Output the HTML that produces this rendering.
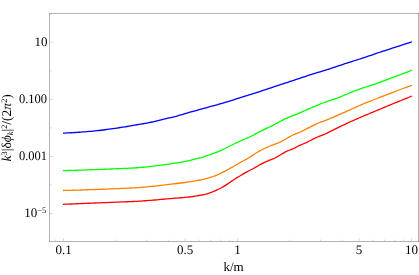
<!DOCTYPE html><html><head><meta charset="utf-8"><style>html,body{margin:0;padding:0;background:#fff;}svg{display:block;}text{font-family:"Liberation Serif",serif;fill:#000;text-rendering:geometricPrecision;}</style></head><body>
<svg width="419" height="275" viewBox="0 0 419 275">
<rect x="0" y="0" width="419" height="275" fill="#fff"/>
<path d="M63.00,133.10 L65.00,133.03 L67.00,132.94 L69.00,132.85 L71.00,132.74 L73.00,132.63 L75.00,132.50 L77.00,132.37 L79.00,132.23 L81.00,132.09 L83.00,131.94 L85.00,131.78 L87.00,131.62 L89.00,131.45 L91.00,131.28 L93.00,131.10 L95.00,130.91 L97.00,130.70 L99.00,130.48 L101.00,130.24 L103.00,129.99 L105.00,129.74 L107.00,129.47 L109.00,129.19 L111.00,128.91 L113.00,128.62 L115.00,128.33 L117.00,128.04 L119.00,127.75 L121.00,127.45 L123.00,127.14 L125.00,126.82 L127.00,126.49 L129.00,126.15 L131.00,125.80 L133.00,125.45 L135.00,125.10 L137.00,124.76 L139.00,124.42 L141.00,124.08 L143.00,123.74 L145.00,123.39 L147.00,123.03 L149.00,122.65 L151.00,122.24 L153.00,121.79 L155.00,121.32 L157.00,120.83 L159.00,120.33 L161.00,119.84 L163.00,119.36 L165.00,118.90 L167.00,118.44 L169.00,117.99 L171.00,117.53 L173.00,117.05 L175.00,116.56 L177.00,116.03 L179.00,115.48 L181.00,114.89 L183.00,114.29 L185.00,113.68 L187.00,113.08 L189.00,112.49 L191.00,111.92 L193.00,111.36 L195.00,110.81 L197.00,110.26 L199.00,109.72 L201.00,109.18 L203.00,108.63 L205.00,108.08 L207.00,107.53 L209.00,106.98 L211.00,106.43 L213.00,105.87 L215.00,105.32 L217.00,104.77 L219.00,104.21 L221.00,103.65 L223.00,103.08 L225.00,102.49 L227.00,101.90 L229.00,101.29 L231.00,100.66 L233.00,100.01 L235.00,99.36 L237.00,98.70 L239.00,98.05 L241.00,97.41 L243.00,96.79 L245.00,96.18 L247.00,95.57 L249.00,94.95 L251.00,94.34 L253.00,93.72 L255.00,93.08 L257.00,92.44 L259.00,91.79 L261.00,91.13 L263.00,90.47 L265.00,89.81 L267.00,89.14 L269.00,88.48 L271.00,87.81 L273.00,87.14 L275.00,86.48 L277.00,85.82 L279.00,85.16 L281.00,84.49 L283.00,83.83 L285.00,83.17 L287.00,82.51 L289.00,81.84 L291.00,81.18 L293.00,80.52 L295.00,79.86 L297.00,79.19 L299.00,78.53 L301.00,77.87 L303.00,77.20 L305.00,76.53 L307.00,75.86 L309.00,75.20 L311.00,74.55 L313.00,73.91 L315.00,73.30 L317.00,72.70 L319.00,72.11 L321.00,71.52 L323.00,70.92 L325.00,70.31 L327.00,69.68 L329.00,69.04 L331.00,68.39 L333.00,67.73 L335.00,67.07 L337.00,66.40 L339.00,65.72 L341.00,65.05 L343.00,64.38 L345.00,63.71 L347.00,63.05 L349.00,62.40 L351.00,61.76 L353.00,61.13 L355.00,60.50 L357.00,59.87 L359.00,59.25 L361.00,58.62 L363.00,57.98 L365.00,57.33 L367.00,56.66 L369.00,55.98 L371.00,55.28 L373.00,54.57 L375.00,53.87 L377.00,53.17 L379.00,52.50 L381.00,51.84 L383.00,51.19 L385.00,50.54 L387.00,49.90 L389.00,49.26 L391.00,48.62 L393.00,47.98 L395.00,47.33 L397.00,46.68 L399.00,46.04 L401.00,45.39 L403.00,44.74 L405.00,44.10 L407.00,43.45 L409.00,42.80 L411.00,42.16 L411.80,41.90" fill="none" stroke="#0000ff" stroke-width="1.3" stroke-linejoin="round"/>
<path d="M63.00,170.60 L65.00,170.55 L67.00,170.50 L69.00,170.45 L71.00,170.40 L73.00,170.34 L75.00,170.29 L77.00,170.23 L79.00,170.16 L81.00,170.10 L83.00,170.04 L85.00,169.97 L87.00,169.90 L89.00,169.83 L91.00,169.76 L93.00,169.69 L95.00,169.61 L97.00,169.54 L99.00,169.46 L101.00,169.38 L103.00,169.31 L105.00,169.23 L107.00,169.14 L109.00,169.06 L111.00,168.98 L113.00,168.90 L115.00,168.81 L117.00,168.73 L119.00,168.64 L121.00,168.56 L123.00,168.47 L125.00,168.38 L127.00,168.29 L129.00,168.19 L131.00,168.09 L133.00,167.98 L135.00,167.86 L137.00,167.73 L139.00,167.59 L141.00,167.42 L143.00,167.23 L145.00,167.03 L147.00,166.82 L149.00,166.61 L151.00,166.38 L153.00,166.16 L155.00,165.93 L157.00,165.69 L159.00,165.45 L161.00,165.19 L163.00,164.93 L165.00,164.66 L167.00,164.38 L169.00,164.09 L171.00,163.79 L173.00,163.48 L175.00,163.17 L177.00,162.85 L179.00,162.52 L181.00,162.17 L183.00,161.81 L185.00,161.43 L187.00,161.04 L189.00,160.62 L191.00,160.16 L193.00,159.63 L195.00,159.07 L197.00,158.55 L199.00,158.07 L201.00,157.58 L203.00,157.01 L205.00,156.37 L207.00,155.68 L209.00,154.99 L211.00,154.30 L213.00,153.59 L215.00,152.85 L217.00,152.08 L219.00,151.28 L221.00,150.44 L223.00,149.54 L225.00,148.54 L227.00,147.51 L229.00,146.50 L231.00,145.49 L233.00,144.49 L235.00,143.51 L237.00,142.56 L239.00,141.63 L241.00,140.72 L243.00,139.86 L245.00,139.02 L247.00,138.15 L249.00,137.22 L251.00,136.23 L253.00,135.21 L255.00,134.20 L257.00,133.20 L259.00,132.20 L261.00,131.20 L263.00,130.20 L265.00,129.19 L267.00,128.20 L269.00,127.24 L271.00,126.29 L273.00,125.31 L275.00,124.27 L277.00,123.16 L279.00,122.04 L281.00,120.98 L283.00,119.94 L285.00,118.95 L287.00,118.04 L289.00,117.21 L291.00,116.43 L293.00,115.64 L295.00,114.84 L297.00,114.04 L299.00,113.22 L301.00,112.36 L303.00,111.45 L305.00,110.53 L307.00,109.66 L309.00,108.82 L311.00,107.99 L313.00,107.14 L315.00,106.26 L317.00,105.37 L319.00,104.54 L321.00,103.75 L323.00,103.00 L325.00,102.26 L327.00,101.54 L329.00,100.85 L331.00,100.18 L333.00,99.51 L335.00,98.84 L337.00,98.14 L339.00,97.40 L341.00,96.61 L343.00,95.76 L345.00,94.88 L347.00,94.00 L349.00,93.13 L351.00,92.30 L353.00,91.52 L355.00,90.76 L357.00,90.03 L359.00,89.32 L361.00,88.62 L363.00,87.93 L365.00,87.25 L367.00,86.58 L369.00,85.94 L371.00,85.30 L373.00,84.66 L375.00,84.01 L377.00,83.34 L379.00,82.65 L381.00,81.93 L383.00,81.19 L385.00,80.44 L387.00,79.68 L389.00,78.92 L391.00,78.18 L393.00,77.43 L395.00,76.69 L397.00,75.95 L399.00,75.20 L401.00,74.45 L403.00,73.69 L405.00,72.91 L407.00,72.13 L409.00,71.33 L411.00,70.52 L411.80,70.20" fill="none" stroke="#00ff00" stroke-width="1.3" stroke-linejoin="round"/>
<path d="M63.00,190.50 L65.00,190.45 L67.00,190.40 L69.00,190.34 L71.00,190.28 L73.00,190.23 L75.00,190.17 L77.00,190.10 L79.00,190.04 L81.00,189.98 L83.00,189.91 L85.00,189.84 L87.00,189.77 L89.00,189.71 L91.00,189.63 L93.00,189.56 L95.00,189.49 L97.00,189.41 L99.00,189.34 L101.00,189.26 L103.00,189.19 L105.00,189.11 L107.00,189.03 L109.00,188.95 L111.00,188.87 L113.00,188.79 L115.00,188.71 L117.00,188.62 L119.00,188.54 L121.00,188.46 L123.00,188.38 L125.00,188.29 L127.00,188.21 L129.00,188.11 L131.00,188.02 L133.00,187.92 L135.00,187.80 L137.00,187.68 L139.00,187.55 L141.00,187.39 L143.00,187.22 L145.00,187.04 L147.00,186.85 L149.00,186.65 L151.00,186.45 L153.00,186.25 L155.00,186.05 L157.00,185.84 L159.00,185.62 L161.00,185.39 L163.00,185.16 L165.00,184.93 L167.00,184.69 L169.00,184.45 L171.00,184.21 L173.00,183.97 L175.00,183.74 L177.00,183.50 L179.00,183.26 L181.00,183.01 L183.00,182.76 L185.00,182.50 L187.00,182.23 L189.00,181.95 L191.00,181.65 L193.00,181.33 L195.00,180.98 L197.00,180.62 L199.00,180.24 L201.00,179.85 L203.00,179.43 L205.00,178.95 L207.00,178.42 L209.00,177.83 L211.00,177.21 L213.00,176.54 L215.00,175.82 L217.00,175.04 L219.00,174.15 L221.00,173.19 L223.00,172.20 L225.00,171.17 L227.00,170.10 L229.00,169.00 L231.00,167.87 L233.00,166.72 L235.00,165.56 L237.00,164.41 L239.00,163.26 L241.00,162.12 L243.00,161.05 L245.00,160.02 L247.00,158.94 L249.00,157.74 L251.00,156.41 L253.00,155.07 L255.00,153.80 L257.00,152.57 L259.00,151.38 L261.00,150.28 L263.00,149.23 L265.00,148.24 L267.00,147.32 L269.00,146.48 L271.00,145.68 L273.00,144.90 L275.00,144.10 L277.00,143.34 L279.00,142.53 L281.00,141.61 L283.00,140.53 L285.00,139.39 L287.00,138.27 L289.00,137.12 L291.00,136.01 L293.00,135.02 L295.00,134.18 L297.00,133.42 L299.00,132.64 L301.00,131.73 L303.00,130.69 L305.00,129.62 L307.00,128.59 L309.00,127.59 L311.00,126.59 L313.00,125.60 L315.00,124.59 L317.00,123.61 L319.00,122.74 L321.00,121.98 L323.00,121.28 L325.00,120.58 L327.00,119.81 L329.00,119.00 L331.00,118.16 L333.00,117.31 L335.00,116.45 L337.00,115.59 L339.00,114.72 L341.00,113.85 L343.00,112.96 L345.00,112.07 L347.00,111.18 L349.00,110.29 L351.00,109.40 L353.00,108.50 L355.00,107.59 L357.00,106.68 L359.00,105.77 L361.00,104.87 L363.00,103.99 L365.00,103.15 L367.00,102.34 L369.00,101.55 L371.00,100.77 L373.00,100.01 L375.00,99.25 L377.00,98.49 L379.00,97.71 L381.00,96.95 L383.00,96.18 L385.00,95.42 L387.00,94.65 L389.00,93.89 L391.00,93.11 L393.00,92.33 L395.00,91.54 L397.00,90.76 L399.00,89.99 L401.00,89.24 L403.00,88.49 L405.00,87.75 L407.00,87.02 L409.00,86.30 L411.00,85.58 L411.80,85.30" fill="none" stroke="#ff8000" stroke-width="1.3" stroke-linejoin="round"/>
<path d="M63.00,204.30 L65.00,204.22 L67.00,204.14 L69.00,204.06 L71.00,203.98 L73.00,203.91 L75.00,203.83 L77.00,203.75 L79.00,203.67 L81.00,203.59 L83.00,203.51 L85.00,203.43 L87.00,203.35 L89.00,203.26 L91.00,203.18 L93.00,203.10 L95.00,203.02 L97.00,202.94 L99.00,202.86 L101.00,202.78 L103.00,202.70 L105.00,202.62 L107.00,202.53 L109.00,202.45 L111.00,202.37 L113.00,202.29 L115.00,202.21 L117.00,202.12 L119.00,202.04 L121.00,201.96 L123.00,201.88 L125.00,201.80 L127.00,201.73 L129.00,201.65 L131.00,201.57 L133.00,201.48 L135.00,201.39 L137.00,201.29 L139.00,201.17 L141.00,201.05 L143.00,200.91 L145.00,200.77 L147.00,200.61 L149.00,200.46 L151.00,200.30 L153.00,200.14 L155.00,199.98 L157.00,199.81 L159.00,199.63 L161.00,199.45 L163.00,199.26 L165.00,199.08 L167.00,198.89 L169.00,198.71 L171.00,198.54 L173.00,198.37 L175.00,198.21 L177.00,198.06 L179.00,197.90 L181.00,197.75 L183.00,197.58 L185.00,197.41 L187.00,197.22 L189.00,197.01 L191.00,196.78 L193.00,196.49 L195.00,196.16 L197.00,195.84 L199.00,195.50 L201.00,195.15 L203.00,194.76 L205.00,194.31 L207.00,193.78 L209.00,193.17 L211.00,192.49 L213.00,191.70 L215.00,190.83 L217.00,189.92 L219.00,188.98 L221.00,187.97 L223.00,186.89 L225.00,185.66 L227.00,184.34 L229.00,183.00 L231.00,181.65 L233.00,180.27 L235.00,178.93 L237.00,177.66 L239.00,176.43 L241.00,175.24 L243.00,174.07 L245.00,172.93 L247.00,171.82 L249.00,170.77 L251.00,169.76 L253.00,168.74 L255.00,167.65 L257.00,166.45 L259.00,165.23 L261.00,164.10 L263.00,163.10 L265.00,162.17 L267.00,161.29 L269.00,160.43 L271.00,159.65 L273.00,158.88 L275.00,158.00 L277.00,156.91 L279.00,155.70 L281.00,154.50 L283.00,153.32 L285.00,152.14 L287.00,151.09 L289.00,150.26 L291.00,149.54 L293.00,148.77 L295.00,147.82 L297.00,146.74 L299.00,145.68 L301.00,144.80 L303.00,144.01 L305.00,143.22 L307.00,142.32 L309.00,141.29 L311.00,140.22 L313.00,139.20 L315.00,138.20 L317.00,137.23 L319.00,136.33 L321.00,135.54 L323.00,134.79 L325.00,134.02 L327.00,133.15 L329.00,132.19 L331.00,131.18 L333.00,130.14 L335.00,129.10 L337.00,128.10 L339.00,127.13 L341.00,126.18 L343.00,125.23 L345.00,124.29 L347.00,123.36 L349.00,122.44 L351.00,121.53 L353.00,120.62 L355.00,119.73 L357.00,118.85 L359.00,117.98 L361.00,117.12 L363.00,116.26 L365.00,115.41 L367.00,114.57 L369.00,113.73 L371.00,112.89 L373.00,112.06 L375.00,111.24 L377.00,110.41 L379.00,109.58 L381.00,108.75 L383.00,107.92 L385.00,107.08 L387.00,106.25 L389.00,105.41 L391.00,104.59 L393.00,103.76 L395.00,102.94 L397.00,102.12 L399.00,101.30 L401.00,100.49 L403.00,99.67 L405.00,98.86 L407.00,98.04 L409.00,97.23 L411.00,96.42 L411.80,96.10" fill="none" stroke="#ff0000" stroke-width="1.3" stroke-linejoin="round"/>
<path d="M49.0,13.5H419.0 M49.0,241.5H419.0 M49.5,13.0V242.0 M418.5,13.0V242.0" fill="none" stroke="#666" stroke-width="0.5"/>
<path d="M63.50,241.00V238.30M185.12,241.00V238.30M237.50,241.00V238.30M359.12,241.00V238.30M411.50,241.00V238.30M55.54,241.00V239.50M115.88,241.00V239.50M146.52,241.00V239.50M168.26,241.00V239.50M198.90,241.00V239.50M210.55,241.00V239.50M220.64,241.00V239.50M229.54,241.00V239.50M289.88,241.00V239.50M320.52,241.00V239.50M342.26,241.00V239.50M372.90,241.00V239.50M384.55,241.00V239.50M394.64,241.00V239.50M403.54,241.00V239.50M50.00,42.31H53.00M50.00,99.39H53.00M50.00,156.47H53.00M50.00,213.55H53.00M50.00,13.77H51.70M50.00,70.85H51.70M50.00,127.93H51.70M50.00,185.01H51.70" fill="none" stroke="#b5b5b5" stroke-width="0.5"/>
<g style="will-change:transform;filter:grayscale(1)">
<text x="47.5" y="45.71" font-size="13.0" text-anchor="end">10</text>
<text x="47.1" y="102.59" font-size="13.0" text-anchor="end" textLength="28.2" lengthAdjust="spacingAndGlyphs">0.100</text>
<text x="47.1" y="159.67" font-size="13.0" text-anchor="end" textLength="28.2" lengthAdjust="spacingAndGlyphs">0.001</text>
<text x="46.3" y="216.95" font-size="13.0" text-anchor="end">10<tspan font-size="8.5" dy="-4.3">−5</tspan></text>
<text x="63.50" y="253.5" font-size="13.0" text-anchor="middle">0.1</text>
<text x="185.12" y="253.5" font-size="13.0" text-anchor="middle">0.5</text>
<text x="237.50" y="253.5" font-size="13.0" text-anchor="middle">1</text>
<text x="359.12" y="253.5" font-size="13.0" text-anchor="middle">5</text>
<text x="411.50" y="253.5" font-size="13.0" text-anchor="middle">10</text>
<text x="233.6" y="271.0" font-size="13.0" text-anchor="middle">k/m</text>
<text transform="translate(11.3,127.8) rotate(-90)" font-size="13.5" text-anchor="middle"><tspan font-style="italic">k</tspan><tspan font-size="8.3" dy="-4.8">3</tspan><tspan dy="4.8">|δ</tspan><tspan font-style="italic">ϕ</tspan><tspan font-size="8.3" dy="2.0" font-style="italic">k</tspan><tspan dy="-2.0">|</tspan><tspan font-size="8.3" dy="-4.8">2</tspan><tspan dy="4.8">/(2</tspan><tspan font-style="italic">π</tspan><tspan font-size="8.3" dy="-4.8">2</tspan><tspan dy="4.8">)</tspan></text>
</g>
</svg></body></html>
